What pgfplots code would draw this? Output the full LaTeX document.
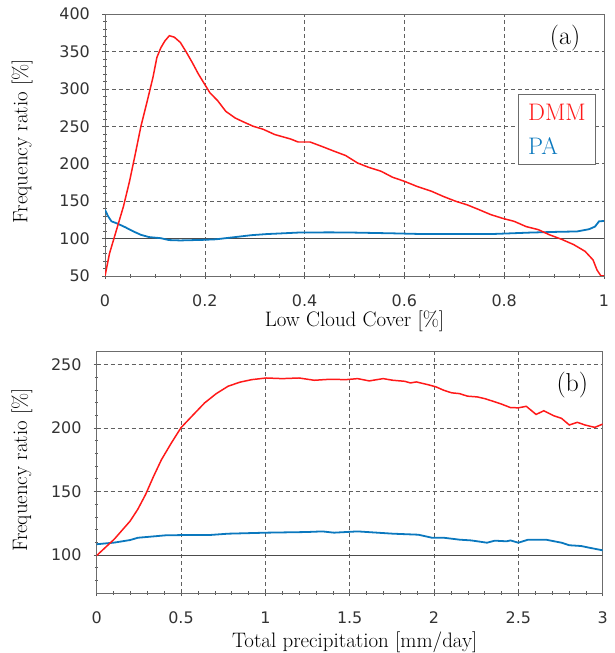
\documentclass[border=0pt]{standalone}
\usepackage{pgfplots}
\pgfplotsset{compat=1.18}
\usepackage{fontspec}
\newfontfamily\tickfont{DejaVu Sans}
\definecolor{dmmred}{RGB}{255,25,25}
\definecolor{pablue}{RGB}{10,120,190}
\pgfplotsset{
 myaxis/.style={
   scale only axis,
   axis line style={gray!85!black, line width=0.6pt},
   grid=major,
   major grid style={dash pattern=on 4bp off 3bp, gray!75!black, line width=0.5pt},
   xtick pos=bottom, ytick pos=left, tick align=center,
   major tick length=6bp, minor tick length=3.5bp,
   every tick/.style={gray!70!black, line width=0.5pt},
   tick label style={font=\tickfont\fontsize{16}{19}\selectfont, text=black!80, inner sep=0pt, /pgf/number format/assume math mode=true},
   xticklabel style={anchor=center, yshift=-22bp},
   yticklabel style={anchor=east, xshift=-12bp},
   label style={font=\fontsize{21}{25}\selectfont},
 }}
\begin{document}
\begin{tikzpicture}
\path[use as bounding box] (0,0) rectangle (615bp,653bp);
% ---------------- (a) ----------------
\begin{axis}[myaxis, at={(105bp,377bp)}, anchor=south west,
  width=499bp, height=262bp,
  xmin=0, xmax=1, ymin=50, ymax=400,
  xtick={0,0.2,0.4,0.6,0.8,1}, ytick={50,100,150,200,250,300,350,400},
  minor x tick num=3, minor y tick num=4,
  xlabel={Low Cloud Cover [\%]}, ylabel={Frequency ratio [\%]},
  xlabel style={at={(axis description cs:0.5,-0.172)}, anchor=center},
  ylabel style={at={(axis description cs:-0.166,0.515)}, anchor=center}]
\addplot[black!70, line width=0.6pt, forget plot] coordinates {(0,100)(1,100)};
\addplot[pablue, line width=1.8pt] coordinates {
(0,138.5)(0.006,130)(0.013,123)(0.025,120)(0.041,115)(0.057,109.5)(0.072,105)
(0.088,102)(0.112,100.5)(0.128,98)(0.151,97.5)(0.198,98.3)(0.222,99)(0.261,102)
(0.293,104.5)(0.324,106)(0.356,107)(0.387,108)(0.45,108.3)(0.498,108)(0.576,107)
(0.639,106)(0.694,106)(0.773,106)(0.813,107)(0.852,108)(0.907,109)(0.946,109.5)
(0.97,112.5)(0.982,116)(0.99,123)(1,123.5)};
\addplot[dmmred, line width=1.5pt] coordinates {
(0,50)(0.009,80)(0.017,98)(0.025,116)(0.037,143)(0.049,176)(0.061,214)(0.072,250)
(0.084,282)(0.096,315)(0.104,342)(0.112,355)(0.12,364)(0.129,371)(0.139,369)
(0.151,362)(0.163,349)(0.175,335)(0.187,320)(0.198,308)(0.21,295)(0.226,284)
(0.242,270)(0.261,261)(0.277,256)(0.297,250)(0.317,246)(0.34,239)(0.372,233)
(0.387,229)(0.411,229)(0.435,223)(0.458,217)(0.482,211)(0.506,201)(0.529,195)
(0.553,190)(0.576,182)(0.6,176.5)(0.624,170)(0.655,163)(0.679,156)(0.702,150)
(0.726,145)(0.75,138.5)(0.773,132)(0.797,127)(0.82,123)(0.844,116)(0.868,112)
(0.891,105)(0.915,99)(0.939,92)(0.962,83)(0.978,71.5)(0.986,58)(0.994,50)(1,50)};
\node[font=\fontsize{26}{30}\selectfont] at (rel axis cs:0.922,0.908) {(a)};
\node[draw=gray!85!black, line width=0.6pt, fill=white, anchor=north east, align=left,
  inner xsep=10bp, inner ysep=10bp, font=\fontsize{24}{34}\selectfont]
  at (rel axis cs:0.984,0.695) {\textcolor{dmmred}{DMM}\\\textcolor{pablue}{PA}};
\end{axis}
% ---------------- (b) ----------------
\begin{axis}[myaxis, at={(96.7bp,60bp)}, anchor=south west,
  width=506bp, height=241.3bp,
  xmin=0, xmax=3, ymin=70, ymax=260,
  xtick={0,0.5,1,1.5,2,2.5,3}, ytick={100,150,200,250},
  minor x tick num=4, minor ytick={80,90,110,120,130,140,160,170,180,190,210,220,230,240},
  xlabel={Total precipitation [mm/day]}, ylabel={Frequency ratio [\%]},
  xlabel style={at={(axis description cs:0.51,-0.203)}, anchor=center},
  ylabel style={at={(axis description cs:-0.148,0.51)}, anchor=center}]
\addplot[black!70, line width=0.6pt, forget plot] coordinates {(0,100)(3,100)};
\addplot[pablue, line width=1.8pt] coordinates {
(0,108.4)(0.105,109.7)(0.198,111.7)(0.244,113.5)(0.314,114.3)(0.407,115.4)(0.5,115.6)
(0.663,115.6)(0.779,116.7)(1.005,117.5)(1.244,118)(1.337,118.5)(1.407,117.5)
(1.547,118.5)(1.663,117.5)(1.756,116.7)(1.907,115.9)(1.988,113.5)(2.058,113.5)
(2.151,112)(2.221,111.4)(2.314,109.6)(2.36,111.2)(2.43,110.7)(2.453,111.4)(2.5,109.6)
(2.558,112)(2.663,112)(2.756,109.6)(2.802,107.6)(2.872,107)(2.919,105.7)(3,103.6)};
\addplot[dmmred, line width=1.5pt] coordinates {
(0,99.5)(0.105,112.5)(0.198,126.6)(0.244,136)(0.29,147.6)(0.337,161.8)(0.384,175)
(0.442,188)(0.5,200.2)(0.57,210)(0.64,219.7)(0.709,227)(0.779,232.8)(0.849,236)
(0.919,238)(1.005,239.3)(1.1,238.8)(1.2,239.3)(1.29,237.5)(1.384,238.3)(1.477,238)
(1.547,238.8)(1.616,237)(1.698,238.8)(1.756,237.5)(1.826,236.7)(1.86,235.4)
(1.895,236.2)(1.965,234)(2.012,232.3)(2.058,229.6)(2.105,227.6)(2.151,227)
(2.198,225)(2.256,224.4)(2.302,223)(2.349,221)(2.395,219)(2.453,216)(2.5,215.8)
(2.547,217)(2.605,210.6)(2.651,213.5)(2.709,209.6)(2.756,207.5)(2.802,202.3)
(2.849,204.4)(2.895,202.3)(2.953,200.4)(3,203)};
\node[font=\fontsize{26}{30}\selectfont] at (rel axis cs:0.94,0.862) {(b)};
\end{axis}
\end{tikzpicture}
\end{document}
